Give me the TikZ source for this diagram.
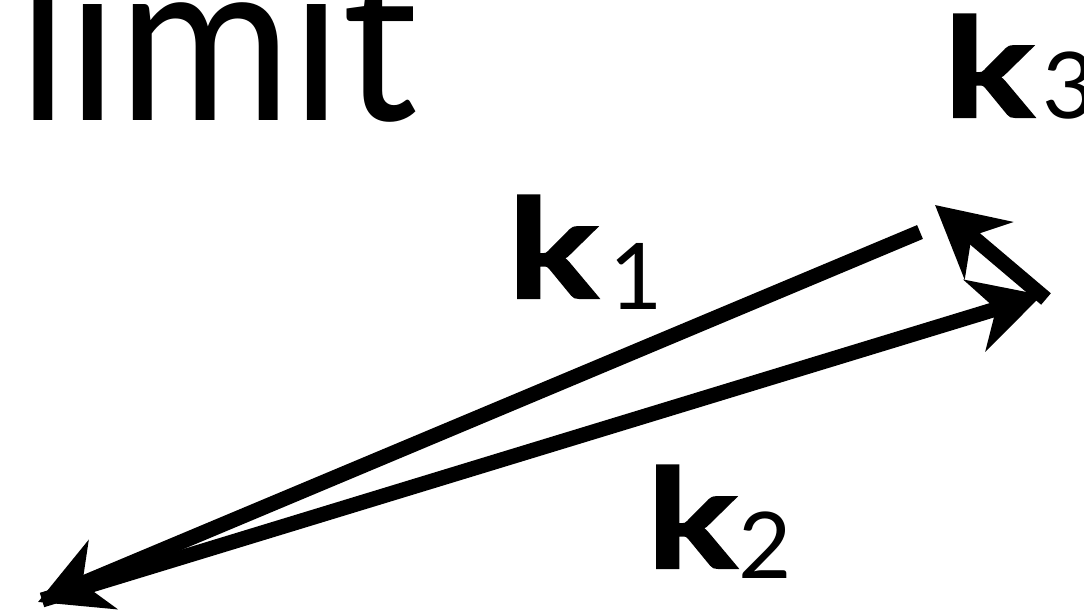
\documentclass[tikz,border=0pt]{standalone}
\usepackage{fontspec}
\setmainfont{Lato}
\newfontfamily\kfontfam[FakeBold=1.5]{Lato}
\usetikzlibrary{arrows.meta}
\begin{document}
\begin{tikzpicture}[x=1pt,y=-1pt,
  vec/.style={line width=15pt, line join=miter, -{Stealth[length=70pt,width=74pt,inset=22pt]}},
  lbl/.style={anchor=base west, inner sep=0pt, outer sep=0pt},
  big/.style={font=\fontsize{229pt}{229pt}\selectfont},
  kfont/.style={font=\fontsize{138pt}{138pt}\kfontfam\bfseries},
  ]
\useasboundingbox (0,0) rectangle (1084,612);
\newcommand{\subdig}[2]{{\fontsize{92pt}{92pt}\normalfont\selectfont\raisebox{-#2}{#1}}}
\newcommand{\kk}{\scalebox{1.22}[1]{k}}
% title
\node[lbl, big] (title) at (18,121) {\scalebox{0.92}[1]{limit}};
% labels
\node[lbl, kfont] (lk1) at (508,298) {\kk\kern12pt\subdig{1}{12pt}};
\node[lbl, kfont] (lk2) at (647,568) {\kk\kern2pt\subdig{2}{10pt}};
\node[lbl, kfont] (lk3) at (944,117) {\kk\kern8pt\subdig{3}{2pt}};
% vector end points
\coordinate (k1s) at (920,232);
\coordinate (k1e) at (38,602);
\coordinate (k2s) at (42,600);
\coordinate (k2e) at (1042,295);
\coordinate (k3s) at (1046,299);
\coordinate (k3e) at (935,205);
\draw[vec] (k1s) -- (k1e);
\draw[vec] (k2s) -- (k2e);
\draw[vec] (k3s) -- (k3e);
\end{tikzpicture}
\end{document}
